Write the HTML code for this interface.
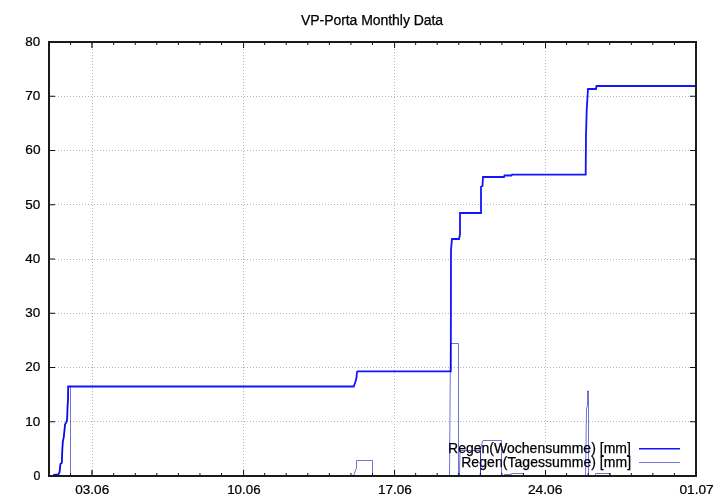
<!DOCTYPE html>
<html><head><meta charset="utf-8"><style>html,body{margin:0;padding:0;background:#fff;width:720px;height:504px;overflow:hidden}svg{display:block;will-change:transform}text{font-family:"Liberation Sans",sans-serif}</style></head>
<body><svg width="720" height="504" viewBox="0 0 720 504">
<rect width="720" height="504" fill="#fff"/>
<path d="M49 421.5H696 M49 367.5H696 M49 313.5H696 M49 259.5H696 M49 204.5H696 M49 150.5H696 M49 96.5H696 M92.5 43V476 M243.5 43V476 M394.5 43V476 M545.5 42V442" stroke="#b6b6b6" stroke-width="1" stroke-dasharray="1 2" fill="none"/>
<path d="M92 476v-6M92 42v6" stroke="#303058" stroke-width="1.5" fill="none"/>
<path d="M49 421.75h6M696 421.75h-6M49 367.50h6M696 367.50h-6M49 313.25h6M696 313.25h-6M49 259.00h6M696 259.00h-6M49 204.75h6M696 204.75h-6M49 150.50h6M696 150.50h-6M49 96.25h6M696 96.25h-6M70.57 476v-3M70.57 42v3M113.70 476v-3M113.70 42v3M135.27 476v-3M135.27 42v3M156.83 476v-3M156.83 42v3M178.40 476v-3M178.40 42v3M199.97 476v-3M199.97 42v3M221.53 476v-3M221.53 42v3M243.60 476v-6M243.60 42v6M264.67 476v-3M264.67 42v3M286.23 476v-3M286.23 42v3M307.80 476v-3M307.80 42v3M329.37 476v-3M329.37 42v3M350.93 476v-3M350.93 42v3M372.50 476v-3M372.50 42v3M394.57 476v-6M394.57 42v6M415.63 476v-3M415.63 42v3M437.20 476v-3M437.20 42v3M458.77 476v-3M458.77 42v3M480.33 476v-3M480.33 42v3M501.90 476v-3M501.90 42v3M523.47 476v-3M523.47 42v3M545.53 476v-6M545.53 42v6M566.60 476v-3M566.60 42v3M588.17 476v-3M588.17 42v3M609.73 476v-3M609.73 42v3M631.30 476v-3M631.30 42v3M652.87 476v-3M652.87 42v3M674.43 476v-3M674.43 42v3" stroke="#111" stroke-width="1" fill="none"/>
<path d="M639 448.8H680" stroke="#1414ff" stroke-width="1.6"/>
<path d="M639 462.5H680" stroke="#0000b0" stroke-opacity="0.55" stroke-width="1"/>
<g font-family="Liberation Sans, sans-serif" font-size="14" fill="#000" stroke="#000" stroke-width="0.25"><text x="301.00" y="25" textLength="142.07" lengthAdjust="spacing">VP-Porta Monthly Data</text><text transform="translate(25.30 46.00) scale(1 0.95)" textLength="14.90" lengthAdjust="spacingAndGlyphs">80</text><text transform="translate(25.30 100.00) scale(1 0.95)" textLength="15.10" lengthAdjust="spacingAndGlyphs">70</text><text transform="translate(25.30 154.00) scale(1 0.95)" textLength="15.20" lengthAdjust="spacingAndGlyphs">60</text><text transform="translate(25.30 209.00) scale(1 0.95)" textLength="15.00" lengthAdjust="spacingAndGlyphs">50</text><text transform="translate(25.30 263.00) scale(1 0.95)" textLength="15.00" lengthAdjust="spacingAndGlyphs">40</text><text transform="translate(25.30 317.00) scale(1 0.95)" textLength="15.00" lengthAdjust="spacingAndGlyphs">30</text><text transform="translate(25.30 371.00) scale(1 0.95)" textLength="15.00" lengthAdjust="spacingAndGlyphs">20</text><text transform="translate(25.30 426.00) scale(1 0.95)" textLength="15.00" lengthAdjust="spacingAndGlyphs">10</text><text transform="translate(33.45 480.00) scale(1 0.95)" textLength="6.85" lengthAdjust="spacingAndGlyphs">0</text><text transform="translate(75.30 493.8) scale(1 0.93)" textLength="33.90" lengthAdjust="spacingAndGlyphs">03.06</text><text transform="translate(227.20 493.8) scale(1 0.93)" textLength="33.40" lengthAdjust="spacingAndGlyphs">10.06</text><text transform="translate(378.00 493.8) scale(1 0.93)" textLength="33.80" lengthAdjust="spacingAndGlyphs">17.06</text><text transform="translate(527.90 493.8) scale(1 0.93)" textLength="34.60" lengthAdjust="spacingAndGlyphs">24.06</text><text transform="translate(679.40 493.8) scale(1 0.93)" textLength="34.30" lengthAdjust="spacingAndGlyphs">01.07</text><text x="448.00" y="453" textLength="182.88" lengthAdjust="spacing">Regen(Wochensumme) [mm]</text><text x="461.20" y="467" textLength="169.93" lengthAdjust="spacing">Regen(Tagessumme) [mm]</text></g>
<path d="M49 476 L53.2 476 L54 474.8 L58.3 474.5 L59.5 472.5 L60.5 463.8 L61.8 463 L62.3 450.3 L62.8 441.6 L63.7 437.6 L64.6 429.2 L65 424.5 L66.7 421.5 L67.2 418.5 L67.5 407.8 L68 399.5 L68.2 386.5 L353.7 386.5 L355.7 381 L356.5 377.5 L357 372 L357.5 371.3 L450.8 371.3 L451 249.8 L452 239 L459 239 L460 234.3 L460 213 L481 213 L481 186.8 L482.5 186 L483 177 L504 177 L504.5 175.5 L511.5 175.5 L512 174.6 L585.7 174.6 L586 135 L586.7 110 L588 89 L596 89 L596.5 86 L696 86" stroke="#1414ff" stroke-width="1.8" fill="none" stroke-linejoin="miter"/>
<g stroke="#0000b0" stroke-opacity="0.55" stroke-width="1" fill="none" stroke-linejoin="miter"><path d="M49 476 L53.2 476 L54 474.8 L58.3 474.5 L59.5 472.5 L60.5 463.8 L61.8 463 L62.3 450.3 L62.8 441.6 L63.7 437.6 L64.6 429.2 L65 424.5 L66.7 421.5 L67.2 418.5 L67.5 407.8 L68 399.5 L68.2 386.5 L70.5 386.5 L70.5 476"/><path d="M353.3 476 L356.5 467.9 L356.5 460.5 L372.5 460.5 L372.5 476"/><path d="M449.5 476 L450.5 343.5 L458.5 343.5 L458.5 476"/><path d="M459.5 476 L460 450.5 L480.5 450.5 L480.5 476"/><path d="M480.5 476 L480.5 450 L482.5 441 L483 440.5 L501.5 440.5 L501.5 476"/><path d="M504 476 L504.3 474.5 L511.3 474.5 L511.6 473.5 L523.5 473.5 L523.5 476"/><path d="M585.5 476 L586.5 409 L587.5 405 L587.5 391 L588.5 391 L588.5 476"/><path d="M595.3 476 L595.6 473.5 L610.5 473.5 L610.5 476"/></g>
<path d="M49 42H696V476H49Z" stroke="#1a1a1a" stroke-width="2" fill="none"/>
</svg></body></html>
